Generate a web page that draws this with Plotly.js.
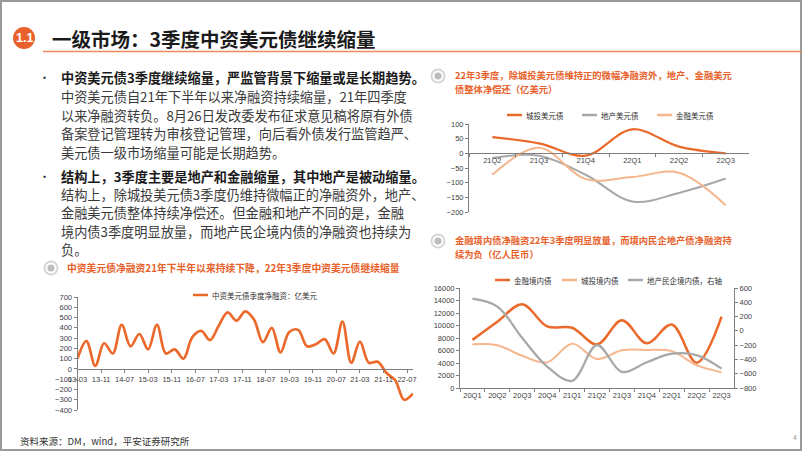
<!DOCTYPE html>
<html><head><meta charset="utf-8">
<script src="https://cdn.plot.ly/plotly-3.0.1.min.js"></script>
<style>html,body{margin:0;padding:0;background:#fff;overflow:hidden}#chart{width:802px;height:451px}</style>
</head><body><div id="chart"></div>
<script>
// ---------- data ----------
// Chart 1: quarterly net financing of Chinese USD bonds (100m USD)
const dates1 = ['2013-03-01','2013-06-01','2013-09-01','2013-12-01',
  '2014-03-01','2014-06-01','2014-09-01','2014-12-01',
  '2015-03-01','2015-06-01','2015-09-01','2015-12-01',
  '2016-03-01','2016-06-01','2016-09-01','2016-12-01',
  '2017-03-01','2017-06-01','2017-09-01','2017-12-01',
  '2018-03-01','2018-06-01','2018-09-01','2018-12-01',
  '2019-03-01','2019-06-01','2019-09-01','2019-12-01',
  '2020-03-01','2020-06-01','2020-09-01','2020-12-01',
  '2021-03-01','2021-06-01','2021-09-01','2021-12-01',
  '2022-03-01','2022-06-01','2022-09-01'];
const netFinUSD = [100,270,30,250,150,430,220,340,190,430,150,190,100,310,370,280,
  420,550,470,560,480,260,400,160,360,380,220,240,290,150,460,60,265,60,70,-40,-110,-300,-240];
const name1 = '中资美元债季度净融资：亿美元';

// Chart 2: USD bonds by sector (100m USD)
const quarters2 = ['21Q2','21Q3','21Q4','22Q1','22Q2','22Q3'];
const lgfvUSD = [55,34,-8,82,23,0];
const propertyUSD = [-16,-8,-73,-164,-135,-86];
const financeUSD = [-73,19,-88,-81,-66,-177];
const names2 = ['城投美元债','地产美元债','金融美元债'];

// Chart 3: onshore bonds (100m RMB)
const quarters3 = ['20Q1','20Q2','20Q3','20Q4','21Q1','21Q2','21Q3','21Q4','22Q1','22Q2','22Q3'];
const financeCNY = [7700,10600,13400,9850,9650,6950,10850,7150,10150,4050,11400];
const lgfvCNY = [7000,6850,5150,4100,7100,4650,6050,6100,5900,3650,2500];
const privPropCNY = [450,340,-100,-500,-700,-200,-575,-440,-320,-340,-530];
const names3 = ['金融境内债','城投境内债','地产民企境内债，右轴'];

// ---------- helpers ----------
const W = 802, H = 451;
const X = p => p / W, Y = p => 1 - p / H;
const C_DARK = '#EB6A2B', C_LIGHT = '#F5B68C', C_GRAY = '#A8A8A8', C_TXT = '#E8602A';
const CJK = '"Noto Sans CJK SC", "Noto Sans", sans-serif';
const NUM = '"Liberation Sans", Arial, "Noto Sans CJK SC", sans-serif';
const tickFont = {family: NUM, size: 7.5, color: '#404040'};

const traces = [
  {x: dates1, y: netFinUSD, name: name1, type: 'scatter', mode: 'lines', xaxis: 'x', yaxis: 'y',
   line: {color: C_DARK, width: 2.7, shape: 'spline', smoothing: 1}},
  {x: quarters2, y: lgfvUSD, name: names2[0], type: 'scatter', mode: 'lines', xaxis: 'x2', yaxis: 'y2',
   line: {color: C_DARK, width: 2.2, shape: 'spline', smoothing: 1}},
  {x: quarters2, y: propertyUSD, name: names2[1], type: 'scatter', mode: 'lines', xaxis: 'x2', yaxis: 'y2',
   line: {color: C_GRAY, width: 2, shape: 'spline', smoothing: 1}},
  {x: quarters2, y: financeUSD, name: names2[2], type: 'scatter', mode: 'lines', xaxis: 'x2', yaxis: 'y2',
   line: {color: C_LIGHT, width: 2, shape: 'spline', smoothing: 1}},
  {x: quarters3, y: financeCNY, name: names3[0], type: 'scatter', mode: 'lines', xaxis: 'x3', yaxis: 'y3',
   line: {color: C_DARK, width: 2.5, shape: 'spline', smoothing: 1}},
  {x: quarters3, y: lgfvCNY, name: names3[1], type: 'scatter', mode: 'lines', xaxis: 'x3', yaxis: 'y3',
   line: {color: C_LIGHT, width: 2, shape: 'spline', smoothing: 1}},
  {x: quarters3, y: privPropCNY, name: names3[2], type: 'scatter', mode: 'lines', xaxis: 'x3', yaxis: 'y4',
   line: {color: C_GRAY, width: 2.2, shape: 'spline', smoothing: 1}}
];

const axBase = {showgrid: false, zeroline: false, showline: true, linecolor: '#7f7f7f', linewidth: 1,
  ticks: 'outside', ticklen: 3, tickcolor: '#7f7f7f', tickfont: tickFont, fixedrange: true, tickangle: 0};

const layout = {
  width: W, height: H, margin: {l: 0, r: 0, t: 0, b: 0},
  paper_bgcolor: '#ffffff', plot_bgcolor: 'rgba(0,0,0,0)', showlegend: false,
  xaxis: Object.assign({}, axBase, {type: 'date', domain: [X(77.5), X(413)],
    range: ['2013-03-01', '2022-09-01'], anchor: 'free', position: Y(368.9),
    tickformat: '%y-%m', dtick: 'M8', tick0: '2013-03-01'}),
  yaxis: Object.assign({}, axBase, {domain: [Y(410), Y(297)], range: [-400, 700], dtick: 100, anchor: 'x'}),
  xaxis2: Object.assign({}, axBase, {type: 'category', domain: [X(469), X(749)], range: [-0.5, 5.5],
    anchor: 'free', position: Y(153.3), tickson: 'boundaries'}),
  yaxis2: Object.assign({}, axBase, {domain: [Y(212), Y(124)], range: [-200, 100], dtick: 50, anchor: 'x2'}),
  xaxis3: Object.assign({}, axBase, {type: 'category', domain: [X(460), X(734)], range: [-0.5, 10.5],
    anchor: 'y3', tickson: 'boundaries'}),
  yaxis3: Object.assign({}, axBase, {domain: [Y(388), Y(288)], range: [0, 16000], dtick: 2000,
    tickformat: 'd', anchor: 'x3'}),
  yaxis4: Object.assign({}, axBase, {domain: [Y(388), Y(288)], range: [-800, 600], dtick: 200,
    tickformat: 'd', anchor: 'x3', overlaying: 'y3', side: 'right'}),
  shapes: [], annotations: []
};

const S = layout.shapes, A = layout.annotations;
function circle(cx, cy, r, fill) {
  S.push({type: 'circle', xref: 'paper', yref: 'paper', x0: X(cx - r), x1: X(cx + r), y0: Y(cy + r), y1: Y(cy - r),
    fillcolor: fill, line: {width: 0}});
}
function hline(x0, x1, y, color, w) {
  S.push({type: 'line', xref: 'paper', yref: 'paper', x0: X(x0), x1: X(x1), y0: Y(y), y1: Y(y),
    line: {color: color, width: w}});
}
function text(t, x, y, size, color, opts) {
  A.push(Object.assign({text: t, x: X(x), y: Y(y), xref: 'paper', yref: 'paper', showarrow: false,
    xanchor: 'left', yanchor: 'middle', borderpad: 0, align: 'left',
    font: {family: CJK, size: size, color: color}}, opts || {}));
}
function icon(cx, cy) {
  circle(cx, cy, 7.5, '#d6d6d6');
  circle(cx, cy, 5.5, '#ffffff');
  circle(cx, cy, 3.6, '#bdbdbd');
}

// frame
S.push({type: 'rect', xref: 'paper', yref: 'paper', x0: X(1), x1: X(801), y0: Y(450), y1: Y(1),
  line: {color: '#9a9a9a', width: 2}, fillcolor: 'rgba(0,0,0,0)'});
// title badge + underline
circle(24, 38, 11, '#E8612C');
text('<b>1.1</b>', 24, 38.5, 12, '#ffffff', {xanchor: 'center', font: {family: NUM, size: 12.5, color: '#fff'}});
hline(43, 802, 51.5, '#EC8A5C', 1.5);
text('<b>一级市场：3季度中资美元债继续缩量</b>', 51, 39, 19.5, '#1a1a1a');

// bullet text
const bodyLines = [
  ['<b>中资美元债3季度继续缩量，严监管背景下缩量或是长期趋势。</b>', 77, true],
  ['中资美元债自21年下半年以来净融资持续缩量，21年四季度', 96.5],
  ['以来净融资转负。8月26日发改委发布征求意见稿将原有外债', 115],
  ['备案登记管理转为审核登记管理，向后看外债发行监管趋严、', 133.5],
  ['美元债一级市场缩量可能是长期趋势。', 152],
  ['<b>结构上，3季度主要是地产和金融缩量，其中地产是被动缩量。</b>', 176, true],
  ['结构上，除城投美元债3季度仍维持微幅正的净融资外，地产、', 194.5],
  ['金融美元债整体持续净偿还。但金融和地产不同的是，金融', 212.5],
  ['境内债3季度明显放量，而地产民企境内债的净融资也持续为', 231],
  ['负。', 249]
];
bodyLines.forEach(l => {
  text(l[0], 60, l[1], 13.2, l[2] ? '#1a1a1a' : '#3a3a3a');
  if (l[2]) text('•', 38, l[1], 11, '#1a1a1a');
});

// chart subtitles
icon(51, 268);
text('<b>中资美元债净融资21年下半年以来持续下降，22年3季度中资美元债继续缩量</b>', 66, 268, 9.8, C_TXT);
icon(438, 76);
text('<b>22年3季度，除城投美元债维持正的微幅净融资外，地产、金融美元</b>', 454, 75, 9.3, C_TXT);
text('<b>债整体净偿还（亿美元）</b>', 454, 88.6, 9.3, C_TXT);
icon(438, 241);
text('<b>金融境内债净融资22年3季度明显放量，而境内民企地产债净融资持</b>', 454, 240, 9.3, C_TXT);
text('<b>续为负（亿人民币）</b>', 454, 253.6, 9.3, C_TXT);

// legends (samples + labels)
function legendItem(x, y, color, label, w) {
  hline(x, x + 15, y, color, w);
  text(label, x + 18, y, 7.5, '#333333');
}
legendItem(193, 295, C_DARK, name1, 2.5);
legendItem(507, 115, C_DARK, names2[0], 2.5);
legendItem(582, 115, C_GRAY, names2[1], 2.5);
legendItem(657, 115, C_LIGHT, names2[2], 2.5);
legendItem(495, 280, C_DARK, names3[0], 2.5);
legendItem(562, 280, C_LIGHT, names3[1], 2.5);
legendItem(628, 280, C_GRAY, names3[2], 2.5);

// footer
text('资料来源：DM，wind，平安证券研究所', 19, 441, 9.5, '#333333');
text('4', 795, 437, 7, '#999999', {xanchor: 'center'});

Plotly.newPlot('chart', traces, layout, {displayModeBar: false, staticPlot: true});
</script></body></html>
